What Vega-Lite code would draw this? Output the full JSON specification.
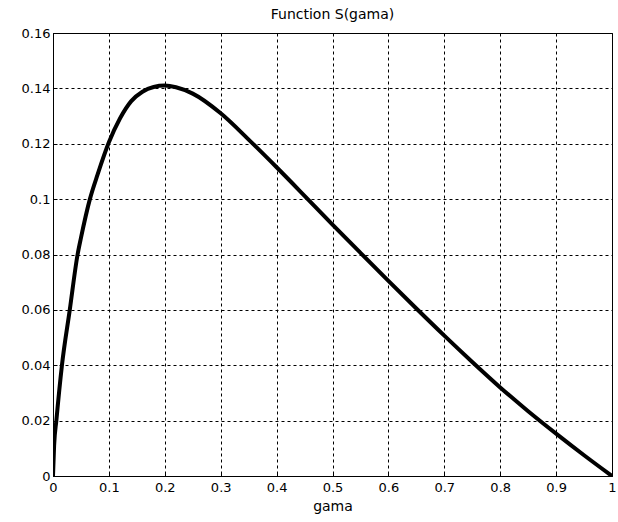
{
  "$schema": "https://vega.github.io/schema/vega-lite/v6.json",
  "width": 559,
  "height": 443,
  "autosize": {"type": "none"},
  "padding": {"left": 53, "top": 33, "right": 6, "bottom": 46},
  "background": "white",
  "title": {"text": "Function S(gama)", "font": "DejaVu Sans", "fontSize": 14, "fontWeight": "normal", "color": "black", "offset": 5},
  "config": {
    "view": {"stroke": "black", "strokeWidth": 1},
    "axis": {"labelFont": "DejaVu Sans", "titleFont": "DejaVu Sans", "labelFontSize": 13, "titleFontSize": 14, "titleFontWeight": "normal", "labelColor": "black", "titleColor": "black", "domainColor": "black", "tickColor": "black", "gridColor": "black", "gridDash": [3, 3], "gridOpacity": 1, "gridWidth": 1}
  },
  "data": {"values": [
    {"gama": 0, "S": 0},
    {"gama": 0.002, "S": 0.011},
    {"gama": 0.006, "S": 0.02},
    {"gama": 0.016, "S": 0.04},
    {"gama": 0.030, "S": 0.06},
    {"gama": 0.044, "S": 0.08},
    {"gama": 0.05, "S": 0.086},
    {"gama": 0.066, "S": 0.1},
    {"gama": 0.08, "S": 0.109},
    {"gama": 0.1, "S": 0.1205},
    {"gama": 0.12, "S": 0.1292},
    {"gama": 0.14, "S": 0.1354},
    {"gama": 0.16, "S": 0.1388},
    {"gama": 0.18, "S": 0.1405},
    {"gama": 0.2, "S": 0.141},
    {"gama": 0.22, "S": 0.1404},
    {"gama": 0.25, "S": 0.1381},
    {"gama": 0.3, "S": 0.131},
    {"gama": 0.35, "S": 0.1215},
    {"gama": 0.4, "S": 0.1115},
    {"gama": 0.45, "S": 0.1012},
    {"gama": 0.5, "S": 0.0908},
    {"gama": 0.55, "S": 0.0806},
    {"gama": 0.6, "S": 0.0705},
    {"gama": 0.65, "S": 0.0605},
    {"gama": 0.7, "S": 0.0507},
    {"gama": 0.75, "S": 0.0412},
    {"gama": 0.8, "S": 0.032},
    {"gama": 0.85, "S": 0.0234},
    {"gama": 0.9, "S": 0.0153},
    {"gama": 0.95, "S": 0.0075},
    {"gama": 1, "S": 0}
  ]},
  "mark": {"type": "line", "color": "black", "strokeWidth": 4, "interpolate": "monotone", "clip": true},
  "encoding": {
    "x": {"field": "gama", "type": "quantitative", "title": "gama", "scale": {"domain": [0, 1], "nice": false, "zero": false},
      "axis": {"values": [0, 0.1, 0.2, 0.3, 0.4, 0.5, 0.6, 0.7, 0.8, 0.9, 1], "labelExpr": "datum.value == 0 ? '0' : datum.value == 1 ? '1' : format(datum.value, '.1f')", "tickSize": -4, "labelPadding": 9, "titlePadding": 5, "labelFlush": false}},
    "y": {"field": "S", "type": "quantitative", "title": null, "scale": {"domain": [0, 0.16], "nice": false},
      "axis": {"values": [0, 0.02, 0.04, 0.06, 0.08, 0.1, 0.12, 0.14, 0.16], "labelExpr": "datum.value == 0 ? '0' : datum.value == 0.1 ? '0.1' : format(datum.value, '.2f')", "tickSize": -4, "labelPadding": 7, "labelFlush": false}}
  }
}
